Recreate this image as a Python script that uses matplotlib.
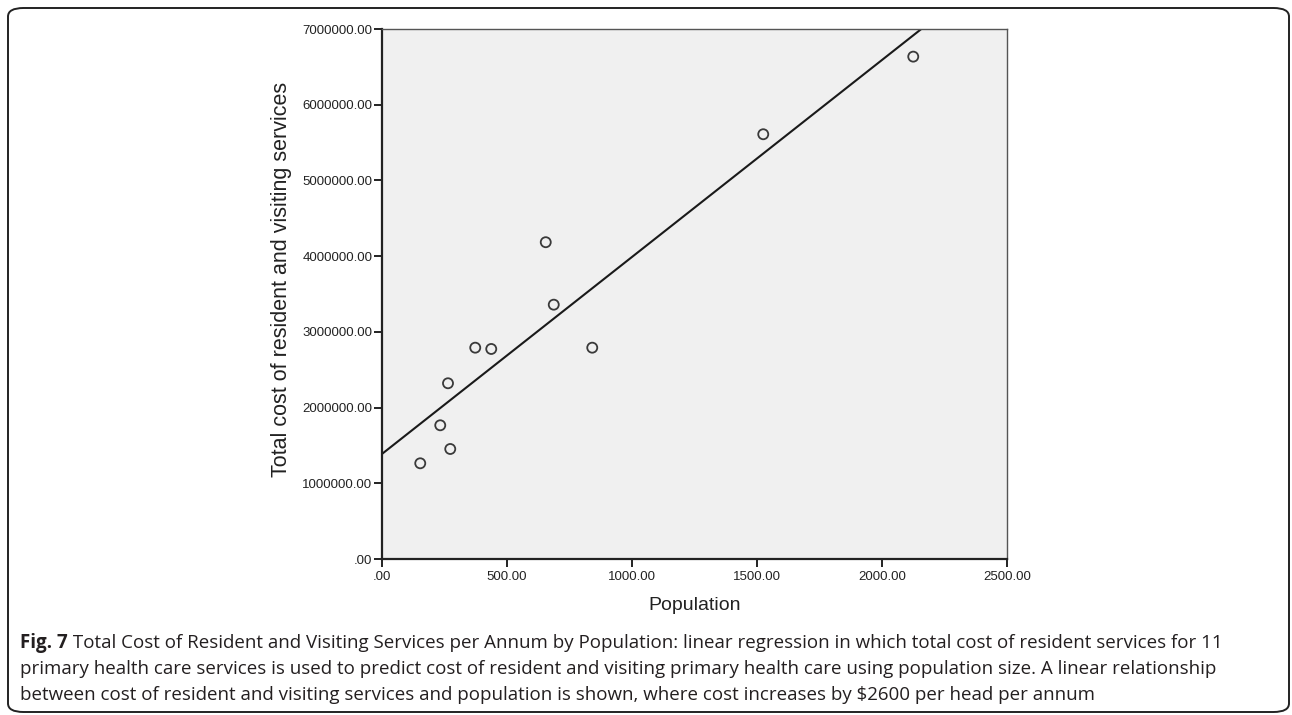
import numpy as np
import matplotlib
matplotlib.use("Agg")
import matplotlib.pyplot as plt
from matplotlib.ticker import FuncFormatter
from matplotlib.patches import FancyBboxPatch

# Data
population = [153, 233, 273, 264, 373, 437, 655, 687, 841, 1525, 2125]
total_cost = [1264000, 1766000, 1453000, 2321000, 2791000, 2774000,
              4184000, 3359000, 2791000, 5610000, 6635000]
x_ticks = [0, 500, 1000, 1500, 2000, 2500]
y_ticks = [0, 1000000, 2000000, 3000000, 4000000, 5000000, 6000000, 7000000]

x_label = "Population"
y_label = "Total cost of resident and visiting services"
caption_bold = "Fig. 7"
caption_lines = [
    " Total Cost of Resident and Visiting Services per Annum by Population: linear regression in which total cost of resident services for 11",
    "primary health care services is used to predict cost of resident and visiting primary health care using population size. A linear relationship",
    "between cost of resident and visiting services and population is shown, where cost increases by $2600 per head per annum",
]

W, H = 1292, 715
fig = plt.figure(figsize=(W / 100, H / 100), dpi=100)
fig.patch.set_facecolor("white")

# rounded frame
fx0, fy0, fx1, fy1 = 8, 8, 1289, 712
frame = FancyBboxPatch((fx0 / W, 1 - fy1 / H), (fx1 - fx0) / W, (fy1 - fy0) / H,
                       boxstyle="round,pad=0,rounding_size=0.012",
                       transform=fig.transFigure, fill=False,
                       edgecolor="#222222", linewidth=1.4)
fig.add_artist(frame)

ax = fig.add_axes([382 / W, 1 - 559 / H, 625 / W, 530 / H])
ax.set_facecolor("#f0f0f0")

slope, intercept = np.polyfit(population, total_cost, 1)
xl = np.array([0, 2500])
ax.plot(xl, intercept + slope * xl, color="#1a1a1a", linewidth=1.5, zorder=2)

ax.scatter(population, total_cost, s=52, facecolors="none",
           edgecolors="#3a3a3a", linewidths=1.3, zorder=3)

ax.set_xlim(0, 2500)
ax.set_ylim(0, 7000000)
ax.set_xticks(x_ticks)
ax.set_yticks(y_ticks)

def fmt(v, pos):
    s = "%.2f" % v
    if s.startswith("0."):
        s = s[1:]
    return s

ax.xaxis.set_major_formatter(FuncFormatter(fmt))
ax.yaxis.set_major_formatter(FuncFormatter(fmt))

for side in ["left", "bottom"]:
    ax.spines[side].set_color("#222222")
    ax.spines[side].set_linewidth(1.6)
for side in ["top", "right"]:
    ax.spines[side].set_color("#555555")
    ax.spines[side].set_linewidth(1.0)

ax.tick_params(axis="both", direction="out", length=6, width=1.4,
               color="#222222", labelsize=9.5, labelcolor="#222222")
ax.tick_params(axis="x", pad=3)
ax.tick_params(axis="y", pad=1)
for lab in ax.get_xticklabels() + ax.get_yticklabels():
    lab.set_family("Liberation Sans")

ax.set_xlabel(x_label, fontsize=14, family="Liberation Sans",
              color="#222222", va="center")
ax.xaxis.set_label_coords((695 - 382) / 625, (559 - 606) / 530)
ax.set_ylabel(y_label, fontsize=15.5, family="Liberation Sans",
              color="#222222", va="center")
ax.yaxis.set_label_coords((281 - 382) / 625, (559 - 279) / 530)

# caption
cap_font = "Open Sans"
cap_size = 13.5
cap_color = "#231f20"
x0 = 20 / W
ys = [1 - 643 / H, 1 - 669 / H, 1 - 695 / H]
tb = fig.text(x0, ys[0], caption_bold, fontsize=cap_size, family=cap_font,
              weight="bold", color=cap_color, va="center", ha="left")
fig.canvas.draw()
bb = tb.get_window_extent(renderer=fig.canvas.get_renderer())
xb = bb.x1 / fig.bbox.width
fig.text(xb, ys[0], caption_lines[0], fontsize=cap_size, family=cap_font,
         color=cap_color, va="center", ha="left")
fig.text(x0, ys[1], caption_lines[1], fontsize=cap_size, family=cap_font,
         color=cap_color, va="center", ha="left")
fig.text(x0, ys[2], caption_lines[2], fontsize=cap_size, family=cap_font,
         color=cap_color, va="center", ha="left")

fig.savefig("out.png", dpi=100)
